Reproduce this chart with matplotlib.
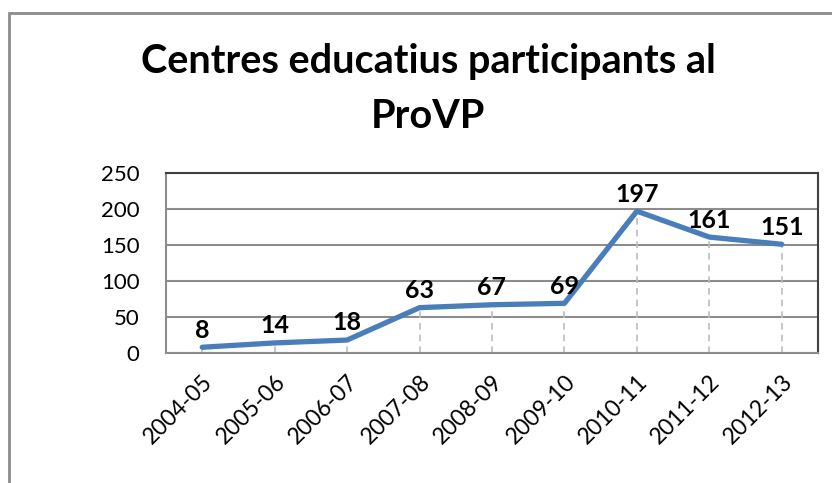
import matplotlib.pyplot as plt
from matplotlib.patches import Rectangle

plt.rcParams['font.family'] = ['Lato', 'DejaVu Sans']

cursos = ['2004-05', '2005-06', '2006-07', '2007-08', '2008-09',
          '2009-10', '2010-11', '2011-12', '2012-13']
centres = [8, 14, 18, 63, 67, 69, 197, 161, 151]
y_ticks = [0, 50, 100, 150, 200, 250]

W, H = 832, 483
fig = plt.figure(figsize=(W / 100, H / 100), dpi=100)
ax = fig.add_axes([166 / W, 1 - 353 / H, (818 - 166) / W, (353 - 173) / H])

x = list(range(len(cursos)))

# linies de caiguda
ax.vlines(x, 0, centres, colors='#bcbcbc', linestyles=(0, (4, 3)), linewidth=1.2, zorder=1)
ax.plot(x, centres, color='#4a7ebb', linewidth=3.8, solid_capstyle='round', zorder=3)

for xi, v in zip(x, centres):
    ax.annotate(str(v), (xi, v), xytext=(0, 4), textcoords='offset points',
                ha='center', va='bottom', fontsize=18, fontweight='bold')

ax.set_xlim(-0.5, len(cursos) - 0.5)
ax.set_ylim(0, 250)
ax.set_yticks(y_ticks)
ax.set_xticks(x)
ax.set_xticklabels(cursos, rotation=45, ha='right', rotation_mode='anchor', fontsize=16.5)
ax.tick_params(axis='both', length=0)
ax.tick_params(axis='y', pad=19, labelsize=16)
ax.tick_params(axis='x', pad=13)
ax.grid(axis='y', color='#8c8c8c', linewidth=1.5, zorder=0)
ax.set_axisbelow(True)

for s in ['left', 'bottom']:
    ax.spines[s].set_color('#8c8c8c')
    ax.spines[s].set_linewidth(1.5)
for s in ['top', 'right']:
    ax.spines[s].set_color('#404040')
    ax.spines[s].set_linewidth(1.5)

fig.text(428 / W, 1 - 62 / H, 'Centres educatius participants al',
         ha='center', va='center', fontsize=28.5, fontweight='bold')
fig.text(428 / W, 1 - 117 / H, 'ProVP',
         ha='center', va='center', fontsize=28.5, fontweight='bold')

# marc exterior del gràfic
fig.patches.append(Rectangle((9 / W, -0.1), 1.2, 1 - 13 / H + 0.1, transform=fig.transFigure,
                             fill=False, edgecolor='#8c8c8c', linewidth=2))

fig.savefig('out.png', dpi=100)
